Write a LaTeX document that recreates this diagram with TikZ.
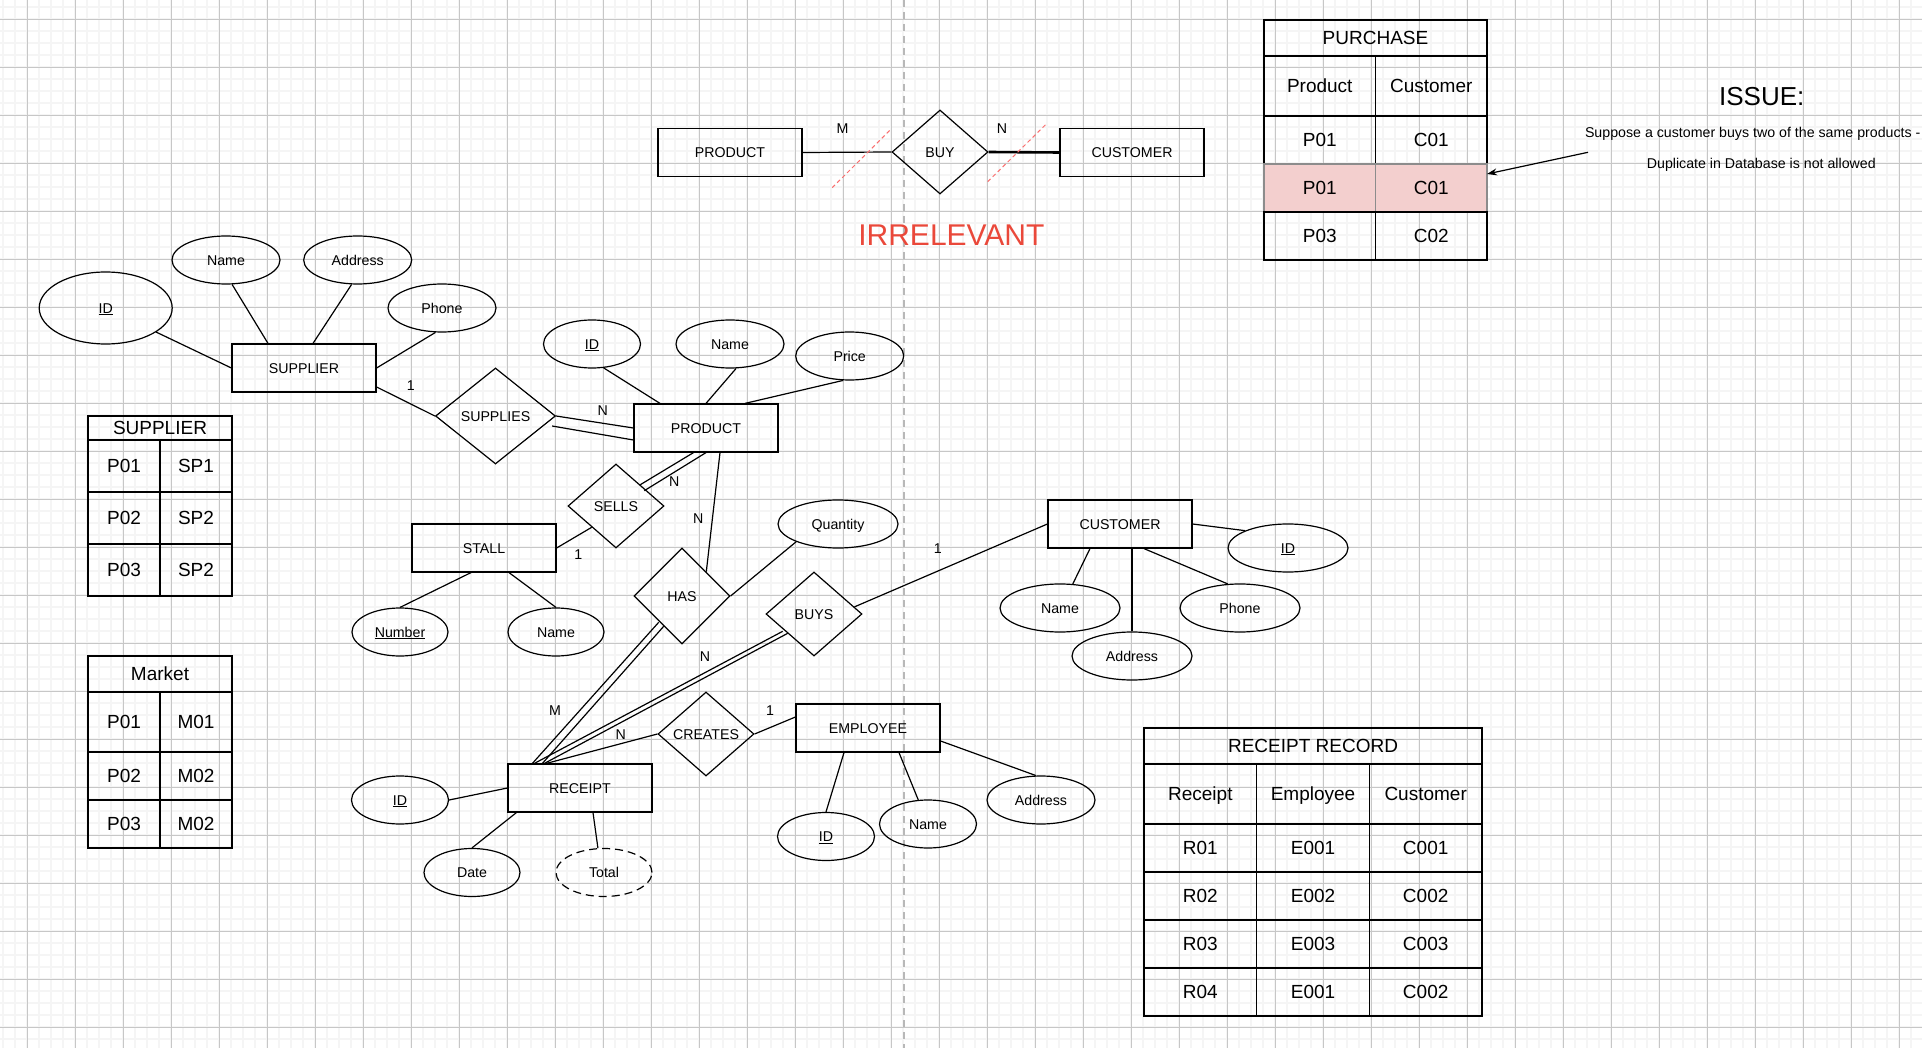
\documentclass[tikz,border=0pt]{standalone}
\usepackage{fontspec}
\setmainfont{Liberation Sans}
\usetikzlibrary{positioning, arrows.meta, shapes.geometric}
\colorlet{grid_minor}{black!4}
\colorlet{grid_major}{black!22}
\colorlet{split_line}{black!28}
\definecolor{red_note}{RGB}{234,72,58}
\definecolor{red_slash}{RGB}{250,110,110}
\definecolor{pink_row}{RGB}{243,207,206}

\begin{document}
\begin{tikzpicture}[x=1pt, y=-1pt, line width=1.2pt,
                    entity/.style={rectangle, draw, minimum width=144pt, minimum height=48pt, inner sep=0pt,
                                   text height=10.2pt, text depth=0pt, font=\fontsize{14.2}{17}\selectfont},
                    relation/.style={diamond, draw, minimum width=96pt, minimum height=84pt, inner sep=0pt,
                                     text height=10.2pt, text depth=0pt, font=\fontsize{14.2}{17}\selectfont},
                    attribute/.style={ellipse, draw, minimum width=108pt, minimum height=48pt, inner sep=0pt,
                                      text height=10.2pt, text depth=0pt, font=\fontsize{14.2}{17}\selectfont},
                    card/.style={inner sep=0pt, text height=10.2pt, text depth=0pt, font=\fontsize{14.2}{17}\selectfont},
                    note/.style={inner sep=0pt, text height=10.2pt, text depth=0pt, font=\fontsize{14.2}{17}\selectfont},
                    cell/.style={rectangle, draw, minimum width=72pt, minimum height=48pt, inner sep=0pt, outer sep=0pt,
                                 text height=13.6pt, text depth=0pt, font=\fontsize{19}{23}\selectfont},
                    connection/.style={line width=1.2pt}]

  \useasboundingbox (0,0) rectangle (1922,1048);
  \fill[white] (0,0) rectangle (1922,1048);

  % Grid
  \foreach \gx in {3.3,15.3,...,1922} \draw[grid_minor, line width=2pt] (\gx,0) -- (\gx,1048);
  \foreach \gy in {7.3,19.3,...,1048} \draw[grid_minor, line width=2pt] (0,\gy) -- (1922,\gy);
  \foreach \gx in {27.3,75.3,...,1922} \draw[grid_major, line width=1pt] (\gx,0) -- (\gx,1048);
  \foreach \gy in {19.3,67.3,...,1048} \draw[grid_major, line width=1pt] (0,\gy) -- (1922,\gy);
  \draw[split_line, line width=2pt, dash pattern=on 7pt off 5pt] (904,0) -- (904,1048);

  % Define entities
  \node[entity] (supplier) at (304,368) {SUPPLIER};
  \node[entity] (product) at (706,428) {PRODUCT};
  \node[entity] (stall) at (484,548) {STALL};
  \node[entity] (customer) at (1120,524) {CUSTOMER};
  \node[entity] (receipt) at (580,788) {RECEIPT};
  \node[entity] (employee) at (868,728) {EMPLOYEE};
  \node[entity] (product_top) at (730,152.5) {PRODUCT};
  \node[entity] (customer_top) at (1132,152.5) {CUSTOMER};

  % Define relations
  \node[relation, minimum width=120pt, minimum height=96pt] (supplies) at (495.5,416) {SUPPLIES};
  \node[relation] (sells) at (616,506) {SELLS};
  \node[relation, minimum height=96pt] (has) at (682,596) {HAS};
  \node[relation] (buys) at (814,614) {BUYS};
  \node[relation] (creates) at (706,734) {CREATES};
  \node[relation] (buy) at (940,152) {BUY};

  % Define attributes
  \node[attribute, minimum width=133pt, minimum height=72pt] (sup_id) at (105.7,308) {\underline{ID}};
  \node[attribute] (sup_name) at (226,260) {Name};
  \node[attribute] (sup_addr) at (357.7,260) {Address};
  \node[attribute] (sup_phone) at (442,308) {Phone};
  \node[attribute, minimum width=97pt] (prod_id) at (592,344) {\underline{ID}};
  \node[attribute] (prod_name) at (730,344) {Name};
  \node[attribute] (prod_price) at (849.7,356) {Price};
  \node[attribute, minimum width=96pt] (stall_num) at (400,632) {\underline{Number}};
  \node[attribute, minimum width=96pt] (stall_name) at (556,632) {Name};
  \node[attribute, minimum width=120pt] (quantity) at (838,524) {Quantity};
  \node[attribute, minimum width=120pt] (cust_id) at (1288,548) {\underline{ID}};
  \node[attribute, minimum width=120pt] (cust_name) at (1060,608) {Name};
  \node[attribute, minimum width=120pt] (cust_phone) at (1240,608) {Phone};
  \node[attribute, minimum width=120pt] (cust_addr) at (1132,656) {Address};
  \node[attribute, minimum width=97pt] (rcpt_id) at (400,800) {\underline{ID}};
  \node[attribute, minimum width=96pt] (rcpt_date) at (472,872.5) {Date};
  \node[attribute, minimum width=96pt, dash pattern=on 8pt off 5pt] (rcpt_total) at (604,872.5) {Total};
  \node[attribute, minimum width=97pt] (emp_id) at (826,836.5) {\underline{ID}};
  \node[attribute, minimum width=97pt] (emp_name) at (928,824) {Name};
  \node[attribute] (emp_addr) at (1041,800) {Address};

  % Connections
  \draw[connection] (sup_id) -- (supplier.west);
  \draw[connection] (sup_name.284) -- ([xshift=-36pt]supplier.north);
  \draw[connection] (sup_addr.256) -- ([xshift=9pt]supplier.north);
  \draw[connection] (sup_phone.255) -- (supplier.east);
  \draw[connection] ([shift={(0,19)}]supplier.east) -- (supplies.west);
  \draw[connection] (supplies.east) -- (product.west);
  \draw[connection] ([shift={(-4,10)}]supplies.east) -- ([shift={(0,12)}]product.west);
  \draw[connection] (prod_id.296) -- ([xshift=-46pt]product.north);
  \draw[connection] (prod_name.284) -- (product.north);
  \draw[connection] (prod_price.255) -- ([xshift=39pt]product.north);
  \draw[connection] (sells.north east) -- ([xshift=-12.5pt]product.south);
  \draw[connection] ([shift={(4,6)}]sells.north east) -- (product.south);
  \draw[connection] (stall.east) -- (sells.south west);
  \draw[connection] ([xshift=-13pt]stall.south) -- (stall_num.north);
  \draw[connection] ([xshift=25pt]stall.south) -- (stall_name.north);
  \draw[connection] ([xshift=14pt]product.south) -- (has.north east);
  \draw[connection] (has.east) -- (quantity.203);
  \draw[connection] ([shift={(1,2)}]has.south west) -- ([xshift=25pt]receipt.north west);
  \draw[connection] ([shift={(6,6)}]has.south west) -- ([xshift=35pt]receipt.north west);
  \draw[connection] ([shift={(-7,-4)}]buys.south west) -- ([xshift=27pt]receipt.north west);
  \draw[connection] ([shift={(-2,-2)}]buys.south west) -- ([xshift=37pt]receipt.north west);
  \draw[connection] (buys.10) -- (customer.west);
  \draw[connection] (creates.west) -- ([xshift=39pt]receipt.north west);
  \draw[connection] (creates.east) -- ([shift={(0,-11)}]employee.west);
  \draw[connection] (customer.east) -- (cust_id.158);
  \draw[connection] ([xshift=-30pt]customer.south) -- (cust_name.62);
  \draw[connection] ([xshift=12pt]customer.south) -- (cust_addr.north);
  \draw[connection] ([xshift=24pt]customer.south) -- (cust_phone.117);
  \draw[connection] (rcpt_id.east) -- (receipt.west);
  \draw[connection] ([xshift=9pt]receipt.south west) -- (rcpt_date.north);
  \draw[connection] ([xshift=13pt]receipt.south) -- (rcpt_total.104);
  \draw[connection] ([xshift=-24pt]employee.south) -- (emp_id.north);
  \draw[connection] ([xshift=31pt]employee.south) -- (emp_name.112);
  \draw[connection] ([shift={(0,13)}]employee.east) -- (emp_addr.102);
  \draw[connection] (product_top.east) -- (buy.west);
  \draw[line width=2.6pt] (buy.east) -- (customer_top.west);

  % Cardinalities
  \node[card] (c_sup) at (410.7,385.7) {1};
  \node[card] (c_sup_prod) at (602.7,410) {N};
  \node[card] (c_sell_prod) at (674.3,481.7) {N};
  \node[card] (c_has_prod) at (698.3,518.3) {N};
  \node[card] (c_stall) at (578.3,554) {1};
  \node[card] (c_cust) at (937.7,548.3) {1};
  \node[card] (c_buys_rcpt) at (705,656) {N};
  \node[card] (c_has_rcpt) at (555,710) {M};
  \node[card] (c_cre_rcpt) at (620.7,734) {N};
  \node[card] (c_emp) at (770,710) {1};
  \node[card] (c_buy_prod) at (842.5,128.3) {M};
  \node[card] (c_buy_cust) at (1002,128.3) {N};

  % Crossed out
  \draw[red_slash, line width=1pt, dash pattern=on 4pt off 3pt] (832.2,187.7) -- (890.2,130);
  \draw[red_slash, line width=1pt, dash pattern=on 4pt off 3pt] (987.7,181.7) -- (1047,123.3);
  \node[inner sep=0pt, text=red_note, font=\fontsize{30}{34}\selectfont] (irrelevant) at (951.4,235) {IRRELEVANT};

  % SUPPLIER table
  \node[cell, minimum width=144pt, minimum height=24pt] (st_head) at (160,428) {SUPPLIER};
  \node[cell, minimum height=52pt, below right=0pt and 0pt of st_head.south west] (st_a1) {P01};
  \node[cell, minimum height=52pt, right=0pt of st_a1] (st_b1) {SP1};
  \node[cell, minimum height=52pt, below=0pt of st_a1] (st_a2) {P02};
  \node[cell, minimum height=52pt, right=0pt of st_a2] (st_b2) {SP2};
  \node[cell, minimum height=52pt, below=0pt of st_a2] (st_a3) {P03};
  \node[cell, minimum height=52pt, right=0pt of st_a3] (st_b3) {SP2};

  % Market table
  \node[cell, minimum width=144pt, minimum height=36pt] (mt_head) at (160,674) {Market};
  \node[cell, minimum height=60pt, below right=0pt and 0pt of mt_head.south west] (mt_a1) {P01};
  \node[cell, minimum height=60pt, right=0pt of mt_a1] (mt_b1) {M01};
  \node[cell, below=0pt of mt_a1] (mt_a2) {P02};
  \node[cell, right=0pt of mt_a2] (mt_b2) {M02};
  \node[cell, below=0pt of mt_a2] (mt_a3) {P03};
  \node[cell, right=0pt of mt_a3] (mt_b3) {M02};

  % PURCHASE table
  \node[cell, minimum width=223pt, minimum height=36pt] (pu_head) at (1375.5,38) {PURCHASE};
  \node[cell, minimum width=111.5pt, minimum height=60pt, below right=0pt and 0pt of pu_head.south west] (pu_a0) {Product};
  \node[cell, minimum width=111.5pt, minimum height=60pt, right=0pt of pu_a0] (pu_b0) {Customer};
  \node[cell, minimum width=111.5pt, below=0pt of pu_a0] (pu_a1) {P01};
  \node[cell, minimum width=111.5pt, right=0pt of pu_a1] (pu_b1) {C01};
  \node[cell, minimum width=111.5pt, fill=pink_row, draw=black!45, below=0pt of pu_a1] (pu_a2) {P01};
  \node[cell, minimum width=111.5pt, fill=pink_row, draw=black!45, right=0pt of pu_a2] (pu_b2) {C01};
  \node[cell, minimum width=111.5pt, below=0pt of pu_a2] (pu_a3) {P03};
  \node[cell, minimum width=111.5pt, right=0pt of pu_a3] (pu_b3) {C02};

  % RECEIPT RECORD table
  \node[cell, minimum width=338pt, minimum height=36pt] (rr_head) at (1313,746) {RECEIPT RECORD};
  \node[cell, minimum width=112.67pt, minimum height=60pt, below right=0pt and 0pt of rr_head.south west] (rr_a0) {Receipt};
  \node[cell, minimum width=112.67pt, minimum height=60pt, right=0pt of rr_a0] (rr_b0) {Employee};
  \node[cell, minimum width=112.67pt, minimum height=60pt, right=0pt of rr_b0] (rr_c0) {Customer};
  \node[cell, minimum width=112.67pt, below=0pt of rr_a0] (rr_a1) {R01};
  \node[cell, minimum width=112.67pt, right=0pt of rr_a1] (rr_b1) {E001};
  \node[cell, minimum width=112.67pt, right=0pt of rr_b1] (rr_c1) {C001};
  \node[cell, minimum width=112.67pt, below=0pt of rr_a1] (rr_a2) {R02};
  \node[cell, minimum width=112.67pt, right=0pt of rr_a2] (rr_b2) {E002};
  \node[cell, minimum width=112.67pt, right=0pt of rr_b2] (rr_c2) {C002};
  \node[cell, minimum width=112.67pt, below=0pt of rr_a2] (rr_a3) {R03};
  \node[cell, minimum width=112.67pt, right=0pt of rr_a3] (rr_b3) {E003};
  \node[cell, minimum width=112.67pt, right=0pt of rr_b3] (rr_c3) {C003};
  \node[cell, minimum width=112.67pt, below=0pt of rr_a3] (rr_a4) {R04};
  \node[cell, minimum width=112.67pt, right=0pt of rr_a4] (rr_b4) {E001};
  \node[cell, minimum width=112.67pt, right=0pt of rr_b4] (rr_c4) {C002};

  % Issue note
  \node[inner sep=0pt, font=\fontsize{26}{30}\selectfont] (issue) at (1761.7,96.7) {ISSUE:};
  \node[note, anchor=west] (issue_l1) at (1584.4,132.3) {Suppose a customer buys two of the same products -};
  \node[note] (issue_l2) at (1761.3,163.3) {Duplicate in Database is not allowed};
  \coordinate (issue_tail) at (1588,152.3);
  \draw[-{Stealth[length=10pt,width=7pt]}] (issue_tail) -- ([yshift=14pt]pu_b2.east);

\end{tikzpicture}
\end{document}
